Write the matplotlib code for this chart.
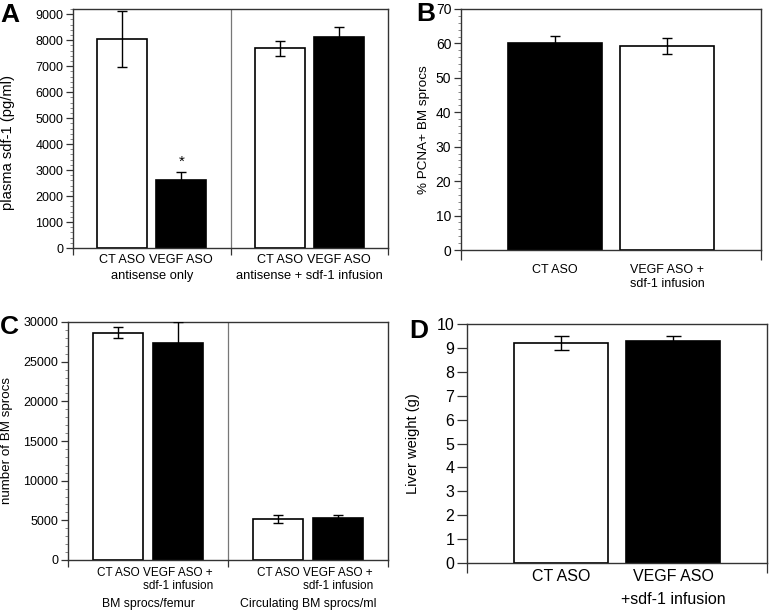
import numpy as np
import matplotlib
matplotlib.use("Agg")
import matplotlib.pyplot as plt
from matplotlib.ticker import MultipleLocator, FixedLocator

plt.rcParams['font.family'] = ['Liberation Sans', 'DejaVu Sans']

# panel A: plasma sdf-1
a_labels = ["CT ASO", "VEGF ASO", "CT ASO", "VEGF ASO"]
a_groups = ["antisense only", "antisense + sdf-1 infusion"]
a_vals = [8030, 2600, 7680, 8120]
a_errs = [1080, 320, 270, 380]
a_colors = ["white", "black", "white", "black"]

# panel B: % PCNA+ BM sprocs
b_labels = ["CT ASO", "VEGF ASO +\nsdf-1 infusion"]
b_vals = [60.1, 59.2]
b_errs = [2.1, 2.3]
b_colors = ["black", "white"]

# panel C: number of BM sprocs
c_labels = ["CT ASO", "VEGF ASO +\nsdf-1 infusion", "CT ASO", "VEGF ASO +\nsdf-1 infusion"]
c_groups = ["BM sprocs/femur", "Circulating BM sprocs/ml"]
c_vals = [28650, 27300, 5150, 5250]
c_errs = [700, 2700, 500, 450]
c_colors = ["white", "black", "white", "black"]

# panel D: liver weight
d_labels = ["CT ASO", "VEGF ASO\n+sdf-1 infusion"]
d_vals = [9.2, 9.3]
d_errs = [0.3, 0.2]
d_colors = ["white", "black"]

W, H = 771, 613
fig = plt.figure(figsize=(W / 100, H / 100), dpi=100)

def axes_px(l, t, r, b):
    return fig.add_axes([l / W, 1 - b / H, (r - l) / W, (b - t) / H])

def style(ax, fs, tl=5, minor=None):
    for s in ax.spines.values():
        s.set_color("#333333")
        s.set_linewidth(1.0)
    ax.tick_params(axis="y", direction="out", length=tl, width=0.9, color="#333333",
                   labelsize=fs, pad=2)
    if minor:
        ax.yaxis.set_minor_locator(MultipleLocator(minor))
        ax.tick_params(axis="y", which="minor", length=2.5, width=0.7, color="#888888")
    ax.tick_params(axis="x", which="major", length=0, labelsize=fs)
    ax.tick_params(axis="x", which="minor", direction="out", length=5, width=0.9, color="#333333")

def bars(ax, x, vals, errs, colors, w, cap, lw=1.2):
    ax.bar(x, vals, width=w, color=colors, edgecolor="black", linewidth=lw, zorder=2)
    ax.errorbar(x, vals, yerr=errs, fmt="none", ecolor="black", elinewidth=1.0,
                capsize=cap, capthick=1.0, zorder=3)

def letter(x, y, s):
    fig.text(x / W, 1 - y / H, s, fontsize=19, fontweight="bold", ha="left", va="baseline")

x4 = [0.625, 1.375, 2.625, 3.375]

# ---- A
ax = axes_px(73, 9, 388, 248)
bars(ax, x4, a_vals, a_errs, a_colors, 0.63, 3.6)
ax.set_xlim(0, 4)
ax.set_ylim(0, 9200)
ax.set_yticks(range(0, 9001, 1000))
style(ax, 9, minor=200)
ax.axvline(2, color="#777777", lw=0.9)
ax.set_xticks(x4)
ax.set_xticklabels(a_labels, fontsize=9.1)
ax.xaxis.set_minor_locator(FixedLocator([0, 2, 4]))
ax.tick_params(axis="x", which="major", pad=4)
ax.text(x4[1], a_vals[1] + a_errs[1] + 130, "*", ha="center", va="bottom", fontsize=11)
for i, g in enumerate(a_groups):
    ax.text((x4[2 * i] + x4[2 * i + 1]) / 2, -0.094, g, transform=ax.get_xaxis_transform(),
            ha="center", va="top", fontsize=9.3)
ax.set_ylabel("plasma sdf-1 (pg/ml)", fontsize=10.6)
ax.yaxis.set_label_coords(-0.185, 0.443)
letter(0, 22, "A")

# ---- B
x2 = [0.313, 0.687]
ax = axes_px(461, 9, 761, 250)
bars(ax, x2, b_vals, b_errs, b_colors, 0.313, 3.4)
ax.set_xlim(0, 1)
ax.set_ylim(0, 70)
ax.set_yticks(range(0, 71, 10))
style(ax, 10, minor=2)
ax.set_xticks(x2)
ax.set_xticklabels(b_labels, fontsize=9)
ax.xaxis.set_minor_locator(FixedLocator([0, 1]))
ax.tick_params(axis="x", which="major", pad=10)
ax.tick_params(axis="x", which="minor", length=7)
ax.set_ylabel("% PCNA+ BM sprocs", fontsize=9.7)
ax.yaxis.set_label_coords(-0.103, 0.5)
letter(416, 21, "B")

# ---- C
ax = axes_px(68, 322, 388, 560)
bars(ax, x4, c_vals, c_errs, c_colors, 0.63, 3.6)
ax.set_xlim(0, 4)
ax.set_ylim(0, 30000)
ax.set_yticks(range(0, 30001, 5000))
style(ax, 9, minor=1000)
ax.axvline(2, color="#777777", lw=0.9)
ax.set_xticks(x4)
ax.set_xticklabels(c_labels, fontsize=8.5, linespacing=1.15)
ax.xaxis.set_minor_locator(FixedLocator([0, 2, 4]))
ax.tick_params(axis="x", which="major", pad=5)
for i, g in enumerate(c_groups):
    ax.text((x4[2 * i] + x4[2 * i + 1]) / 2, -0.16, g, transform=ax.get_xaxis_transform(),
            ha="center", va="top", fontsize=8.8)
ax.set_ylabel("number of BM sprocs", fontsize=9.6)
ax.yaxis.set_label_coords(-0.172, 0.5)
letter(0, 334, "C")

# ---- D
ax = axes_px(467, 324, 767, 563)
bars(ax, x2, d_vals, d_errs, d_colors, 0.315, 5.4)
ax.set_xlim(0, 1)
ax.set_ylim(0, 10)
ax.set_yticks(range(0, 11))
style(ax, 11.5, tl=7)
ax.set_xticks(x2)
ax.set_xticklabels(d_labels, fontsize=11.5, linespacing=1.7)
ax.xaxis.set_minor_locator(FixedLocator([0, 1]))
ax.tick_params(axis="x", which="major", pad=4)
ax.tick_params(axis="x", which="minor", length=7)
ax.set_ylabel("Liver weight (g)", fontsize=10.5)
ax.yaxis.set_label_coords(-0.157, 0.5)
letter(409, 338, "D")

fig.savefig("out.png", dpi=100)
